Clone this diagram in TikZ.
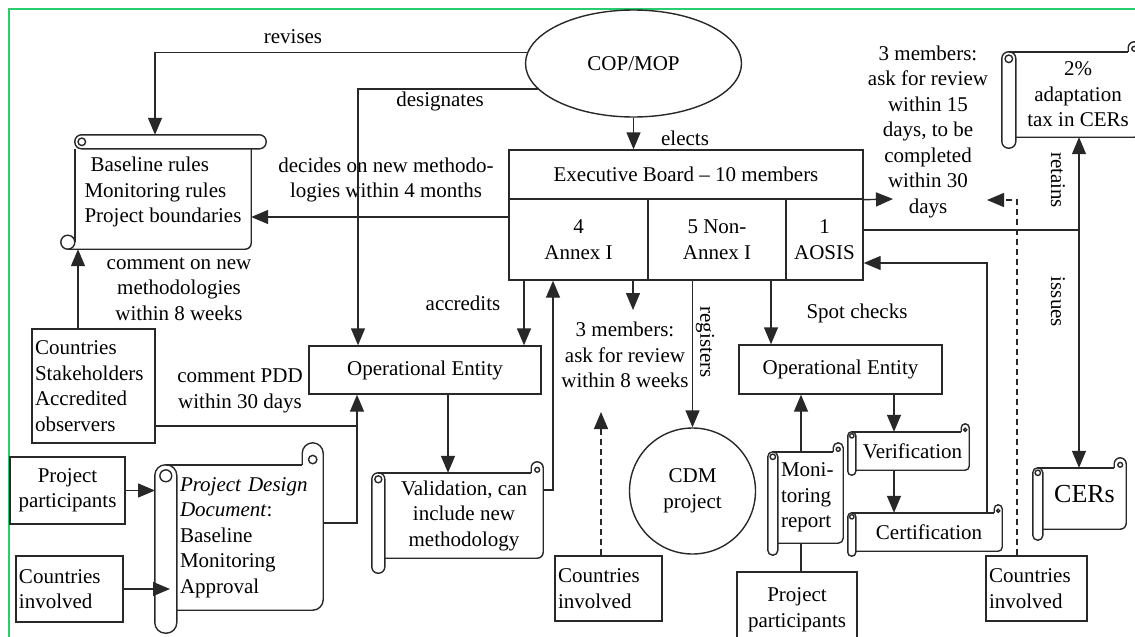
\documentclass[tikz,border=0pt]{standalone}
\usepackage{fontspec}
\setmainfont{Liberation Serif}
\usetikzlibrary{shapes.geometric,arrows.meta,calc}
\definecolor{brd}{RGB}{40,205,110}
\definecolor{ink}{RGB}{40,40,40}
% vertical scroll: #1 node, #2 roll width, #3 roll extension below, #4 curl radius, #5 curl height
\newcommand\vscroll[5]{%
  \draw[ln, rounded corners={#2*0.48pt}] ($(#1.north west)+(-#2,0)$) rectangle ($(#1.south west)+(0,#3)$);
  \draw[ln] ($(#1.north west)+(-#2/2,#2/2)$) circle[radius={#2*0.27pt}];
  \draw[ln] ($(#1.north west)+(-#2/2,0)$) -- ($(#1.north east)+(-2*#4,0)$);
  \draw[ln, rounded corners={#4*1pt}] (#1.south west) -- (#1.south east) -- ($(#1.north east)+(0,-#5)$) -- ($(#1.north east)+(-2*#4,-#5)$) -- ($(#1.north east)+(-2*#4,0)$);
  \draw[ln] ($(#1.north east)+(-#4,-0.5*#4)$) circle[radius={#4*0.4pt}];
}
% horizontal scroll: #1 node, #2 roll height, #3 roll extension right, #4 curl radius
\newcommand\hscroll[4]{%
  \draw[ln, rounded corners={#2*0.48pt}] (#1.north west) rectangle ($(#1.north east)+(#3,#2)$);
  \draw[ln] ($(#1.north west)+(#2/2,#2/2)$) circle[radius={#2*0.27pt}];
  \draw[ln] ($(#1.north west)+(0,#2)$) -- ($(#1.south west)+(0,-#4)$);
  \draw[ln] ($(#1.south west)+(-#4,-#4)$) circle[radius={#4*1pt}];
  \draw[ln, rounded corners=6pt] ($(#1.south west)+(-#4,0)$) -- (#1.south east) -- ($(#1.north east)+(0,#2)$);
}
\begin{document}
\begin{tikzpicture}[x=1pt, y=-1pt,
  font=\fontsize{21}{25.5}\selectfont,
  ln/.style={draw=ink, line width=1.4pt},
  arr/.style={ln, -{Triangle[length=17pt,width=14pt]}},
  dsh/.style={arr, dash pattern=on 6pt off 4pt},
  bx/.style={ln, inner sep=3pt},
  sb/.style={inner sep=3pt},
  lbl/.style={inner sep=1pt, align=center}]
\useasboundingbox (0,0) rectangle (1135,637);
\draw[draw=brd, line width=2pt] (9,645) -- (9,9) -- (1145,9);

% ---- nodes ----
\node[ln, ellipse, minimum width=216, minimum height=107, inner sep=0] (cop) at (633.5,63.5) {\raisebox{-8pt}{COP/MOP}};
\node[bx, minimum width=354, minimum height=49] (ebtop) at (686,174.5) {Executive Board -- 10 members};
\node[bx, minimum width=139, minimum height=81, align=center] (eb1) at (578.5,239.5) {4\\Annex I};
\node[bx, minimum width=138, minimum height=81, align=center] (eb2) at (717,239.5) {5 Non-\\Annex I};
\node[bx, minimum width=77, minimum height=81, align=center] (eb3) at (824.5,239.5) {1\\AOSIS};

\node[sb, minimum width=176, minimum height=114, align=left] (base) at (163,192) {\hspace*{6pt}Baseline rules\\Monitoring rules\\Project boundaries};
\hscroll{base}{14}{15}{7}

\node[bx, minimum width=123, minimum height=114, text width=117pt, align=left] (cs) at (93.5,386) {Countries\\Stakeholders\\Accredited\\observers};
\node[bx, minimum width=115, minimum height=67, align=center] (pp1) at (67.5,490.5) {Project\\participants};
\node[bx, minimum width=107, minimum height=66, text width=101pt, align=left] (ci1) at (69.5,589) {Countries\\involved};

\node[sb, minimum width=146, minimum height=145, text width=140pt, align=left] (pdd) at (250,537.5) {\textit{Project Design}\\\textit{Document}:\\Baseline\\Monitoring\\Approval};
\vscroll{pdd}{22}{23}{10.5}{22}

\node[bx, minimum width=232, minimum height=48] (oe1) at (425,370) {Operational Entity};
\node[sb, minimum width=158, minimum height=85, align=center] (val) at (464,515.5) {Validation, can\\include new\\methodology};
\vscroll{val}{13}{15}{6}{11}

\node[lbl] (t8) at (625,355) {3 members:\\ask for review\\within 8 weeks};
\node[bx, minimum width=107, minimum height=65, text width=101pt, align=left] (ci2) at (608.5,588.5) {Countries\\involved};
\node[ln, circle, minimum size=126, inner sep=0, align=center] (cdm) at (692.5,491) {CDM\\project};

\node[bx, minimum width=203, minimum height=49] (oe2) at (840.5,369.5) {Operational Entity};
\node[sb, minimum width=65, minimum height=91, text width=59pt, align=left] (mon) at (810.5,497.5) {Moni-\\toring\\report};
\vscroll{mon}{10}{12}{5}{9}
\node[sb, minimum width=113, minimum height=38] (ver) at (912.5,451) {Verification};
\vscroll{ver}{8}{5}{4}{8}
\node[sb, minimum width=146, minimum height=38] (cert) at (929,532) {Certification};
\vscroll{cert}{8}{5}{4}{8}
\node[bx, minimum width=120, minimum height=75] (pp2) at (797,609.5) {\raisebox{8pt}{\begin{tabular}{@{}c@{}}Project\\participants\end{tabular}}};
\node[bx, minimum width=101, minimum height=65, text width=95pt, align=left] (ci3) at (1036.5,588.5) {Countries\\involved};

\node[sb, minimum width=83, minimum height=61] (cers) at (1084.5,498.5) {\fontsize{26}{30}\selectfont\raisebox{9pt}{CERs}};
\vscroll{cers}{10}{11}{6}{10}
\node[sb, minimum width=124, minimum height=85, align=center] (tax) at (1078,94.5) {2\%\\adaptation\\tax in CERs};
\vscroll{tax}{14}{11}{6}{10}

\node[lbl] (t15) at (928,131.5) {3 members:\\ask for review\\within 15\\days, to be\\completed\\within 30\\days};

% ---- labels ----
\node[lbl] (lrev) at (293,37) {revises};
\node[lbl] (ldes) at (440,101) {designates};
\node[lbl] (lel) at (685,138) {elects};
\node[lbl] (ldec) at (386,180) {decides on new methodo-\\logies within 4 months};
\node[lbl] (lcom) at (179,289) {comment on new\\methodologies\\within 8 weeks};
\node[lbl] (lpdd) at (240,391) {comment PDD\\within 30 days};
\node[lbl] (lacc) at (463,303) {accredits};
\node[lbl, rotate=-90] (lreg) at (705,342) {registers};
\node[lbl] (lspot) at (857,313) {Spot checks};
\node[lbl, rotate=-90] (lret) at (1058,180) {retains};
\node[lbl, rotate=-90] (liss) at (1058,302) {issues};

% ---- helper coordinates ----
\coordinate (rv) at (155,0);
\coordinate (dg) at (358,0);
\coordinate (dc) at (0,217);
\coordinate (t15a) at (893,199);
\coordinate (t15b) at (987,200);
\coordinate (dx3) at (1017,0);
\coordinate (jn) at (1079,230);
\coordinate (cc) at (987,263);
\coordinate (sc) at (771,0);
\coordinate (vx) at (894,0);
\coordinate (mx) at (801,0);
\coordinate (t8a) at (633,310);
\coordinate (t8b) at (601,412);
\coordinate (ac) at (524,0);
\coordinate (vv) at (553,490);
\coordinate (ov) at (448,0);
\coordinate (cp) at (357,426);
\coordinate (pq) at (0,523);
\coordinate (cb) at (78,0);
\coordinate (pr) at (155,0);
\coordinate (pr2) at (170,0);

% ---- connectors ----
\draw[arr] (cop.174) -| (rv |- base.north);
\draw[arr] (cop.195) -| (dg |- oe1.north);
\draw[arr] (cop.south) -- (cop.south |- ebtop.north);
\draw[arr] (eb1.west |- dc) -- (base.east |- dc);
\draw[arr] (ebtop.south east) -- (t15a);
\draw[dsh] (dx3 |- ci3.north) |- (t15b);
\draw[ln] (eb3.east |- jn) -- (jn);
\draw[arr] (jn) -- (jn |- tax.south);
\draw[arr] (jn) -- (jn |- cers.north);
\draw[arr] (cert.north -| cc) |- (eb3.east |- cc);
\draw[arr] (sc |- eb2.south) -- (sc |- oe2.north);
\draw[arr] (vx |- oe2.south) -- (vx |- ver.north);
\draw[arr] (vx |- ver.south) -- (vx |- cert.north);
\draw[arr] (mx |- mon.north) -- (mx |- oe2.south);
\draw[ln] (mx |- pp2.north) -- (mx |- mon.south);
\draw[arr] (cdm.north |- eb2.south) -- (cdm.north);
\draw[arr] (t8a |- eb1.south) -- (t8a);
\draw[dsh] (t8b |- ci2.north) -- (t8b);
\draw[arr] (ac |- eb1.south) -- (ac |- oe1.north);
\draw[arr] (val.east |- vv) -| (vv |- eb1.south);
\draw[arr] (ov |- oe1.south) -- (ov |- val.north);
\draw[ln] (cs.east |- cp) -- (cp);
\draw[arr] (pdd.east |- pq) -| (cp |- oe1.south);
\draw[arr] (cb |- cs.north) -- (cb |- base.south);
\draw[arr] (pp1.east) -- (pr |- pp1.east);
\draw[arr] (ci1.east) -- (pr2 |- ci1.east);
\end{tikzpicture}
\end{document}
